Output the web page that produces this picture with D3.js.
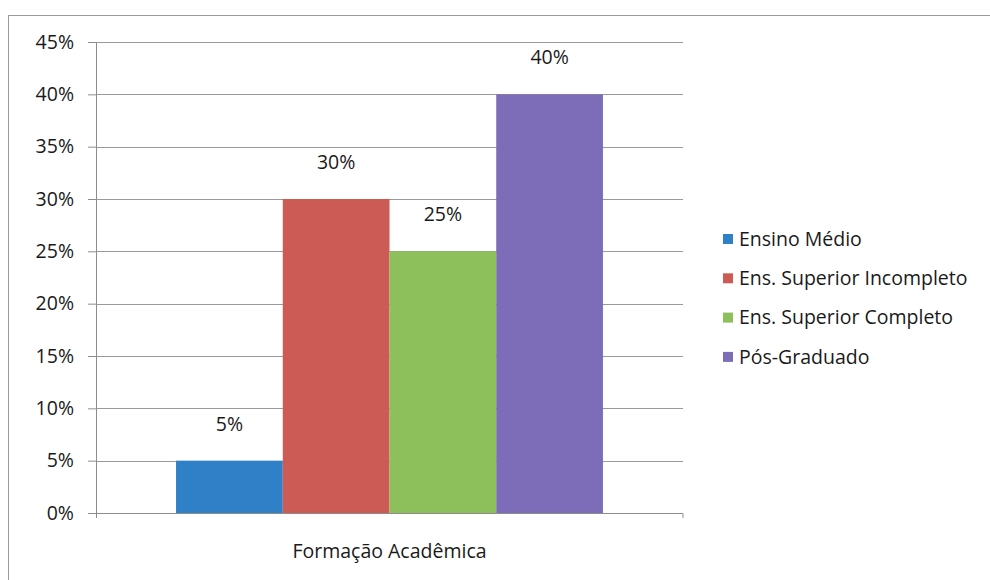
<!DOCTYPE html>
<html>
<head>
<meta charset="utf-8">
<script src="https://cdn.jsdelivr.net/npm/d3@7"></script>
<style>
  body { margin: 0; background: #fff; }
  svg { display: block; }
  svg text { font-family: "Open Sans", "Noto Sans", sans-serif; font-size: 19.5px; fill: #1a1a1a; }
</style>
</head>
<body>
<div id="chart"></div>
<script>
// data
var category = "Formação Acadêmica";
var series = ["Ensino Médio", "Ens. Superior Incompleto", "Ens. Superior Completo", "Pós-Graduado"];
var values = [0.05, 0.30, 0.25, 0.40];
var colors = ["#2f80c6", "#cd5b55", "#8dbf5a", "#7d6db8"];
var yTicks = [0, 0.05, 0.10, 0.15, 0.20, 0.25, 0.30, 0.35, 0.40, 0.45];

var W = 990, H = 580;
var margin = { top: 42, right: 307, bottom: 67, left: 96 },
  width = W - margin.left - margin.right,
  height = H - margin.top - margin.bottom;

var root = d3.select("#chart").append("svg")
  .attr("width", W)
  .attr("height", H);

// chart frame (runs off the right/bottom edges in the scan)
root.append("rect")
  .attr("x", 8.5).attr("y", 15.5)
  .attr("width", W).attr("height", H)
  .attr("fill", "none")
  .attr("stroke", "#9a9a9a")
  .attr("stroke-width", 1);

var svg = root.append("g")
  .attr("transform", "translate(" + margin.left + "," + margin.top + ")");

// scales
var x0 = d3.scaleBand().domain([category]).range([0, width]);
var x1 = d3.scaleBand().domain(series)
  .range([0, x0.bandwidth()])
  .paddingInner(0).paddingOuter(0.75);
var y = d3.scaleLinear().domain([0, 0.45]).range([height, 0]);
var color = d3.scaleOrdinal().domain(series).range(colors);

// gridlines
svg.append("g")
  .selectAll("line")
  .data(yTicks.slice(1))
  .enter().append("line")
  .attr("x1", 0).attr("x2", width)
  .attr("y1", function(d) { return Math.round(y(d)) + 0.5; })
  .attr("y2", function(d) { return Math.round(y(d)) + 0.5; })
  .attr("stroke", "#9a9a9a")
  .attr("stroke-width", 1);

// bars
svg.append("g")
  .selectAll("rect")
  .data(values)
  .enter().append("rect")
  .attr("x", function(d, i) { return x0(category) + x1(series[i]); })
  .attr("y", function(d) { return y(d); })
  .attr("width", x1.bandwidth())
  .attr("height", function(d) { return height - y(d); })
  .attr("fill", function(d, i) { return color(series[i]); });

// value labels
svg.append("g")
  .selectAll("text")
  .data(values)
  .enter().append("text")
  .attr("x", function(d, i) { return x0(category) + x1(series[i]) + x1.bandwidth() / 2; })
  .attr("y", function(d) { return y(d) - 30; })
  .attr("text-anchor", "middle")
  .text(function(d) { return d3.format(".0%")(d); });

// Y axis
var yAxis = svg.append("g")
  .call(d3.axisLeft(y).tickValues(yTicks).tickFormat(d3.format(".0%")).tickSize(8).tickPadding(14));
yAxis.attr("font-family", null).attr("font-size", null);
yAxis.select(".domain").attr("stroke", "#8c8c8c");
yAxis.selectAll(".tick line").attr("stroke", "#8c8c8c");
yAxis.selectAll(".tick text").attr("fill", null);

// X axis
var xAxis = svg.append("g")
  .attr("transform", "translate(0," + height + ")")
  .call(d3.axisBottom(x0).tickSize(0).tickFormat(""));
xAxis.select(".domain").attr("stroke", "#8c8c8c")
  .attr("d", "M-8,0.5H" + width + "V5");
svg.append("line")
  .attr("x1", 0.5).attr("x2", 0.5)
  .attr("y1", height).attr("y2", height + 5)
  .attr("stroke", "#8c8c8c");

// X axis label
svg.append("text")
  .attr("x", x0(category) + x0.bandwidth() / 2)
  .attr("y", height + 45)
  .attr("text-anchor", "middle")
  .text(category);

// legend
var legend = root.append("g")
  .attr("transform", "translate(723,239)");
var rows = legend.selectAll("g")
  .data(series)
  .enter().append("g")
  .attr("transform", function(d, i) { return "translate(0," + i * 39.3 + ")"; });
rows.append("rect")
  .attr("x", 0).attr("y", -5)
  .attr("width", 10).attr("height", 10)
  .attr("fill", function(d) { return color(d); });
rows.append("text")
  .attr("x", 16).attr("y", 0)
  .attr("dy", "0.35em")
  .text(function(d) { return d; });
</script>
</body>
</html>
